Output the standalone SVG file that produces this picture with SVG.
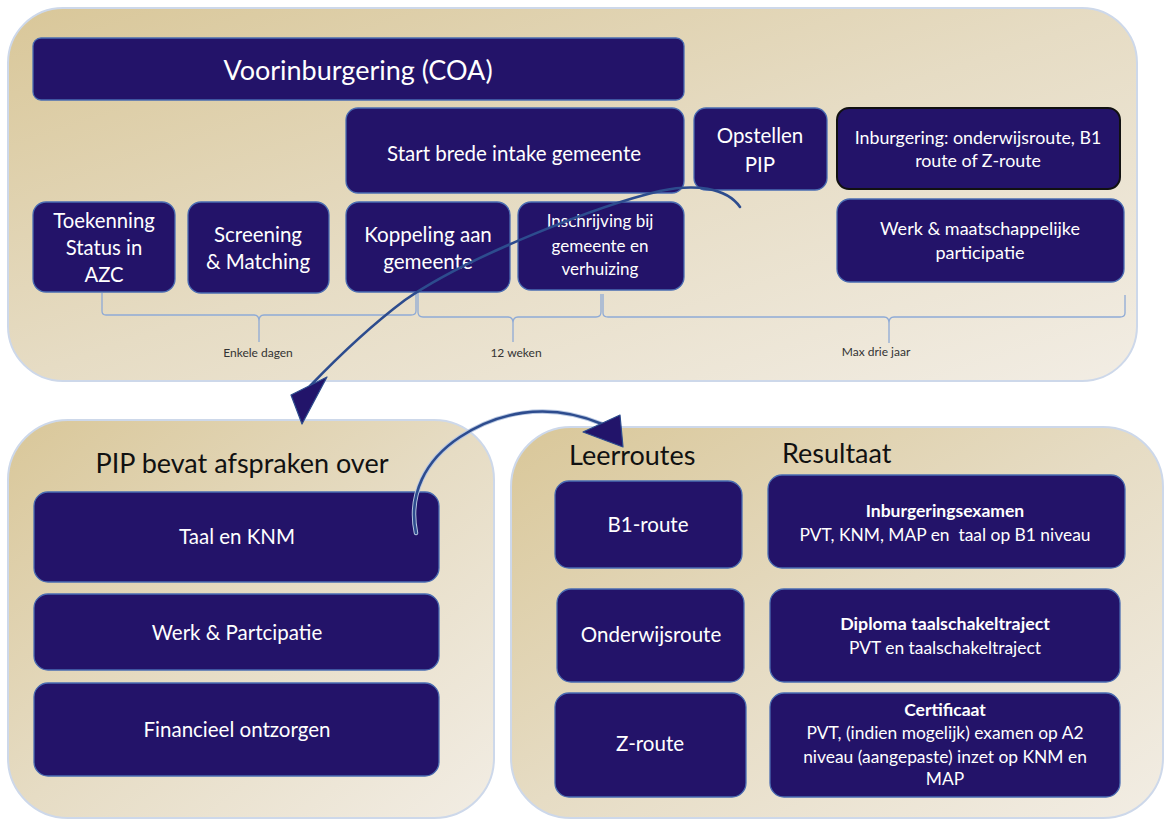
<svg xmlns="http://www.w3.org/2000/svg" width="1167" height="823" viewBox="0 0 1167 823">
<defs>
<linearGradient id="pg" x1="0" y1="0" x2="1" y2="1">
<stop offset="0" stop-color="#d9c799"/>
<stop offset="0.5" stop-color="#e6dcc4"/>
<stop offset="1" stop-color="#f2ede4"/>
</linearGradient>
<style>
.panel{fill:url(#pg);stroke:#cdd8ea;stroke-width:2}
.node{fill:#231369;stroke:#4a6cb2;stroke-width:1.3}
.nodek{fill:#231369;stroke:#111;stroke-width:2}
.t{font-family:Lato,"Open Sans","Liberation Sans",sans-serif;fill:#fff;text-anchor:middle}
.h{font-family:Lato,"Open Sans","Liberation Sans",sans-serif;fill:#111;font-size:27px}
.b{font-weight:bold}
.lbl{font-family:Lato,"Liberation Sans",sans-serif;fill:#333;font-size:12px;text-anchor:middle}
.brace{fill:none;stroke:#8eaad6;stroke-width:1.3}
.conn{fill:none;stroke:#2d4c8e;stroke-width:2.6;stroke-linecap:round}
.head{fill:#22146a;stroke:#2d4c8e;stroke-width:1.2;stroke-linejoin:round}
</style>
</defs>
<rect width="1167" height="823" fill="#fff"/>

<g id="panel-top"><rect class="panel" x="8" y="8" width="1129" height="373" rx="55"/></g>
<g id="panel-pip"><rect class="panel" x="8" y="420" width="486" height="398" rx="60"/></g>
<g id="panel-routes"><rect class="panel" x="511" y="427" width="652" height="391" rx="60"/></g>

<g id="n-voorinburgering"><rect class="node" x="33" y="38" width="651" height="62" rx="8"/><text class="t" x="358" y="80" font-size="27">Voorinburgering (COA)</text></g>
<g id="n-start"><rect class="node" x="346" y="108" width="338" height="85" rx="12"/><text class="t" x="514" y="161" font-size="20.5">Start brede intake gemeente</text></g>
<g id="n-opstellen"><rect class="node" x="694" y="108" width="133" height="82" rx="12"/><text class="t" x="760" y="143" font-size="20.5">Opstellen</text><text class="t" x="760" y="172" font-size="20.5">PIP</text></g>
<g id="n-inburgering"><rect class="nodek" x="837" y="108" width="283" height="81" rx="12"/><text class="t" x="978" y="144" font-size="17.8">Inburgering: onderwijsroute, B1</text><text class="t" x="978" y="167" font-size="17.8">route of Z-route</text></g>
<g id="n-werk"><rect class="node" x="837" y="199" width="287" height="83" rx="13"/><text class="t" x="980" y="235" font-size="18">Werk &amp; maatschappelijke</text><text class="t" x="980" y="259" font-size="18">participatie</text></g>
<g id="n-toekenning"><rect class="node" x="33" y="202" width="142" height="90" rx="13"/><text class="t" x="104" y="228" font-size="20.3">Toekenning</text><text class="t" x="104" y="255" font-size="20.3">Status in</text><text class="t" x="104" y="282" font-size="20.3">AZC</text></g>
<g id="n-screening"><rect class="node" x="188" y="202" width="141" height="91" rx="13"/><text class="t" x="258" y="242" font-size="20.5">Screening</text><text class="t" x="258" y="269" font-size="20.5">&amp; Matching</text></g>
<g id="n-koppeling"><rect class="node" x="346" y="202" width="164" height="90" rx="13"/><text class="t" x="428" y="242" font-size="20.6">Koppeling aan</text><text class="t" x="428" y="269" font-size="20.6">gemeente</text></g>
<g id="n-inschrijving"><rect class="node" x="518" y="202" width="166" height="88" rx="13"/><text class="t" x="600" y="227" font-size="17">Inschrijving bij</text><text class="t" x="600" y="252" font-size="17">gemeente en</text><text class="t" x="600" y="275" font-size="17">verhuizing</text></g>

<g id="braces">
<path class="brace" d="M102,293 V311 Q102,315 106,315 H254 Q259,315 259,321 V342 M259,321 Q259,315 264,315 H411 Q416,315 416,311 V293"/>
<path class="brace" d="M418,293 V312 Q418,317 423,317 H508 Q513,317 513,323 V342 M513,323 Q513,317 518,317 H596 Q601,317 601,312 V294"/>
<path class="brace" d="M603,294 V313 Q603,317 608,317 H884 Q889,317 889,323 V343 M889,323 Q889,317 894,317 H1120 Q1125,317 1125,313 V295"/>
<text class="lbl" x="258" y="357">Enkele dagen</text>
<text class="lbl" x="516" y="357">12 weken</text>
<text class="lbl" x="876" y="356">Max drie jaar</text>
</g>

<g id="n-pip-title"><text class="h" x="242" y="473" text-anchor="middle">PIP bevat afspraken over</text></g>
<g id="n-taal"><rect class="node" x="34" y="492" width="405" height="90" rx="14"/><text class="t" x="237" y="544" font-size="20.5">Taal en KNM</text></g>
<g id="n-werkpart"><rect class="node" x="34" y="594" width="405" height="76" rx="14"/><text class="t" x="237" y="640" font-size="20.5">Werk &amp; Partcipatie</text></g>
<g id="n-financieel"><rect class="node" x="34" y="683" width="405" height="93" rx="14"/><text class="t" x="237" y="737" font-size="20.5">Financieel ontzorgen</text></g>

<g id="n-leerroutes-title"><text class="h" x="569" y="465">Leerroutes</text></g>
<g id="n-resultaat-title"><text class="h" x="782" y="463">Resultaat</text></g>
<g id="n-b1"><rect class="node" x="555" y="481" width="187" height="87" rx="14"/><text class="t" x="648" y="532" font-size="20.5">B1-route</text></g>
<g id="n-onderwijs"><rect class="node" x="557" y="589" width="187" height="93" rx="14"/><text class="t" x="651" y="642" font-size="20.5">Onderwijsroute</text></g>
<g id="n-z"><rect class="node" x="555" y="693" width="191" height="104" rx="14"/><text class="t" x="650" y="751" font-size="20.5">Z-route</text></g>
<g id="n-examen"><rect class="node" x="768" y="475" width="357" height="93" rx="14"/><text class="t b" x="945" y="517" font-size="17.5">Inburgeringsexamen</text><text class="t" x="945" y="541" font-size="17.4" xml:space="preserve">PVT, KNM, MAP en  taal op B1 niveau</text></g>
<g id="n-diploma"><rect class="node" x="770" y="589" width="350" height="93" rx="14"/><text class="t b" x="945" y="630" font-size="17.8">Diploma taalschakeltraject</text><text class="t" x="945" y="654" font-size="17.4">PVT en taalschakeltraject</text></g>
<g id="n-certificaat"><rect class="node" x="770" y="693" width="350" height="104" rx="14"/><text class="t b" x="945" y="716" font-size="17.5">Certificaat</text><text class="t" x="945" y="739" font-size="17.4">PVT, (indien mogelijk) examen op A2</text><text class="t" x="945" y="763" font-size="17.4">niveau (aangepaste) inzet op KNM en</text><text class="t" x="945" y="785" font-size="17.4">MAP</text></g>

<g id="connectors">
<path class="conn" d="M740,207 C726,187 694,184 660,191 C600,205 470,255 405,300 C365,330 335,360 310,386"/>
<polygon class="head" points="302,424 291,395 327,377"/>
<path d="M416,533 C408,495 425,460 460,437 C495,414 545,400 602,424" fill="none" stroke="#b9c8e2" stroke-width="4.5" stroke-linecap="round"/>
<path class="conn" d="M416,533 C408,495 425,460 460,437 C495,414 545,400 602,424"/>
<polygon class="head" points="623,447 583,432 620,415"/>
</g>
</svg>
